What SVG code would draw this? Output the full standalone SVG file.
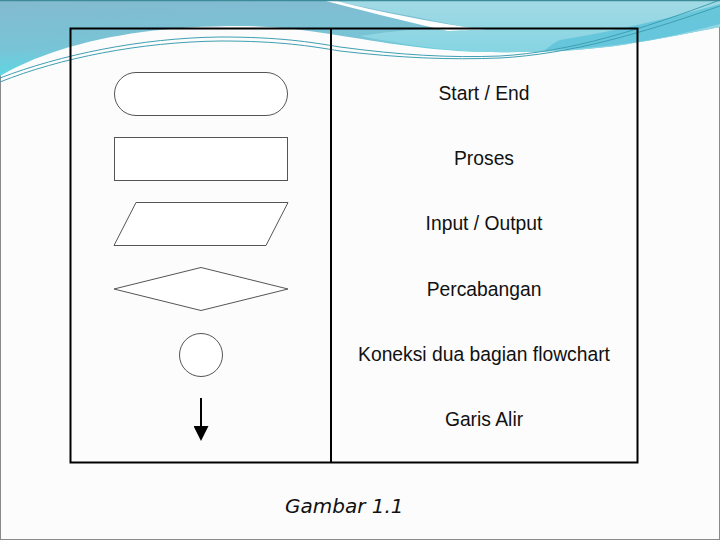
<svg xmlns="http://www.w3.org/2000/svg" width="720" height="540" viewBox="0 0 720 540">
<defs>
<linearGradient id="gLeft" x1="0" y1="0" x2="0.3" y2="1">
<stop offset="0" stop-color="#84bad0"/>
<stop offset="0.6" stop-color="#78c4d6"/>
<stop offset="1" stop-color="#58dbe5"/>
</linearGradient>
<linearGradient id="gRight" x1="0" y1="0" x2="0" y2="1">
<stop offset="0" stop-color="#a2dae5"/>
<stop offset="1" stop-color="#86d4e2"/>
</linearGradient>
<marker id="arrow" viewBox="0 0 15 15" refX="6" refY="7.5" markerWidth="15" markerHeight="15" markerUnits="userSpaceOnUse" orient="auto">
<path d="M0,0 L15,7.5 L0,15 Z" fill="#000"/>
</marker>
<style>
.shape{fill:#fff;stroke:#555;stroke-width:1}
.lbl{font-family:"Liberation Sans",Arial,sans-serif;font-size:19.3px;fill:#111;text-anchor:middle}
.cap{font-family:"DejaVu Sans",Verdana,sans-serif;font-size:20px;font-style:italic;fill:#111}
.thin{fill:none;stroke:#3f9fb2;stroke-width:1}
</style>
</defs>
<g id="background">
<rect x="0" y="0" width="720" height="540" fill="#fcfcfc" stroke="#8a8a8a" stroke-width="2"/>
<path d="M0,0 H720 V27 C690,33 665,38 640,42 C600,49 560,53 480,52 C420,50 370,40 330,34 C300,29 270,26 240,26 C170,26 110,34 60,50 C35,58 15,67 0,76 Z" fill="url(#gLeft)"/>
<path d="M326,0 H720 V27 C690,33 665,38 640,42 C600,49 560,53 480,52 C440,50 400,44 360,36 C400,30 440,26 470,28 C420,18 370,8 326,0 Z" fill="url(#gRight)"/>
<path d="M322,0 L332,0 C380,12 430,22 486,30 C470,30 460,30 448,31 C400,20 360,10 322,0 Z" fill="#ffffff"/>
<path d="M560,40 C620,30 670,18 720,4 V24 C690,32 660,39 630,43 C600,47 575,49 545,50 C550,46 555,42 560,40 Z" fill="#5fc3d9" opacity="0.85"/>
<path class="thin" d="M0,78 C60,55 140,38 220,37 C280,37 310,42 340,47 C400,55 450,58 500,56 C570,52 640,30 720,0"/>
<path class="thin" d="M0,82 C60,58 140,42 220,41 C280,41 310,46 340,51 C400,58 450,60 500,58 C570,54 640,34 720,6" stroke="#6aa8c0"/>
<line x1="0" y1="0.5" x2="720" y2="0.5" stroke="#3d8a99" stroke-width="1.5"/>
</g>
<g id="table">
<rect x="70.5" y="28.5" width="567" height="434" fill="none" stroke="#000" stroke-width="2"/>
<line x1="331" y1="28.5" x2="331" y2="462.5" stroke="#000" stroke-width="2"/>
</g>
<g id="terminator"><rect class="shape" x="114.5" y="72.5" width="173" height="43" rx="21.5" ry="21.5"/></g>
<g id="process"><rect class="shape" x="114.5" y="137.5" width="173" height="43"/></g>
<g id="io"><polygon class="shape" points="136,202.5 288,202.5 266,245.5 114,245.5"/></g>
<g id="decision"><polygon class="shape" points="114,289 201,267.5 288,289 201,310.5"/></g>
<g id="connector-symbol"><circle class="shape" cx="201" cy="355" r="21.5"/></g>
<g id="connectors">
<line x1="201" y1="398" x2="201" y2="432" stroke="#000" stroke-width="2" marker-end="url(#arrow)"/>
</g>
<g id="labels">
<text class="lbl" x="484" y="100">Start / End</text>
<text class="lbl" x="484" y="165">Proses</text>
<text class="lbl" x="484" y="230">Input / Output</text>
<text class="lbl" x="484" y="296">Percabangan</text>
<text class="lbl" x="484" y="361">Koneksi dua bagian flowchart</text>
<text class="lbl" x="484" y="426">Garis Alir</text>
</g>
<g id="caption">
<text class="cap" x="285" y="513">Gambar 1.1</text>
</g>
</svg>
